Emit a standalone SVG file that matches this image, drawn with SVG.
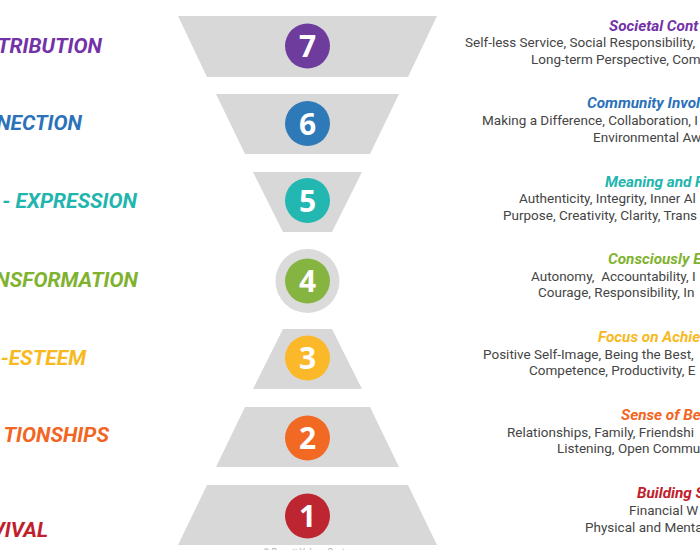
<svg xmlns="http://www.w3.org/2000/svg" width="700" height="550" viewBox="0 0 700 550">
<style>
.tier{fill:#d9d8d9}
.num{font-family:"Open Sans","Liberation Sans",sans-serif;font-weight:700;font-size:30px;fill:#ffffff;text-anchor:middle}
.lab{font-family:Roboto,"Liberation Sans",sans-serif;font-weight:700;font-style:italic;font-size:21px;text-anchor:end}
.ttl{font-family:Roboto,"Liberation Sans",sans-serif;font-weight:700;font-style:italic;font-size:15.3px}
.body{font-family:Roboto,"Liberation Sans",sans-serif;font-size:13.5px;fill:#454545}
.c7{fill:#6e3c9d}.c6{fill:#2e7ab8}.c5{fill:#22b7b1}.c4{fill:#86b440}.c3{fill:#fbb829}.c2{fill:#f26924}.c1{fill:#bd2530}
.t7{fill:#7432a8}.t6{fill:#2b72ba}.t5{fill:#22b5ae}.t4{fill:#7fb32f}.t3{fill:#f8b91e}.t2{fill:#f26522}.t1{fill:#c0202c}
</style>
<rect width="700" height="550" fill="#ffffff"/>
<g id="level7">
<polygon class="tier" points="178,16 437,16 408,77 207,77"/>
<circle class="c7" cx="307.5" cy="46" r="22.5"/>
<text class="num" x="307.5" y="57">7</text>
<text class="lab t7" x="102" y="53">TRIBUTION</text>
<text class="ttl t7" x="609" y="31">Societal Cont</text>
<text class="body" x="465" y="47">Self-less Service, Social Responsibility,</text>
<text class="body" x="531" y="64">Long-term Perspective, Com</text>
</g>
<g id="level6">
<polygon class="tier" points="216,94 399,94 370,154 245,154"/>
<circle class="c6" cx="307.5" cy="123.5" r="22.5"/>
<text class="num" x="307.5" y="134.5">6</text>
<text class="lab t6" x="82" y="130">NECTION</text>
<text class="ttl t6" x="587" y="108">Community Invol</text>
<text class="body" x="482" y="125">Making a Difference, Collaboration, I</text>
<text class="body" x="593" y="142">Environmental Aw</text>
</g>
<g id="level5">
<polygon class="tier" points="253,172 362,172 332,232 283,232"/>
<circle class="c5" cx="307.5" cy="200.5" r="22.5"/>
<text class="num" x="307.5" y="211.5">5</text>
<text class="lab t5" x="137" y="208">- EXPRESSION</text>
<text class="ttl t5" x="605" y="187">Meaning and F</text>
<text class="body" x="519" y="203">Authenticity, Integrity, Inner Al</text>
<text class="body" x="503" y="220">Purpose, Creativity, Clarity, Trans</text>
</g>
<g id="level4">
<circle fill="#dcdbdc" cx="307.5" cy="281" r="32"/>
<circle class="c4" cx="307.5" cy="281" r="22.5"/>
<text class="num" x="307.5" y="292">4</text>
<text class="lab t4" x="138" y="287">NSFORMATION</text>
<text class="ttl t4" x="608" y="264">Consciously E</text>
<text class="body" x="531" y="281" xml:space="preserve">Autonomy,  Accountability, I</text>
<text class="body" x="538" y="297">Courage, Responsibility, In</text>
</g>
<g id="level3">
<polygon class="tier" points="283,329 332,329 362,389 253,389"/>
<circle class="c3" cx="307.5" cy="358" r="22.5"/>
<text class="num" x="307.5" y="369">3</text>
<text class="lab t3" x="86" y="365">-ESTEEM</text>
<text class="ttl t3" x="598" y="342">Focus on Achie</text>
<text class="body" x="483" y="359">Positive Self-Image, Being the Best,</text>
<text class="body" x="529" y="375">Competence, Productivity, E</text>
</g>
<g id="level2">
<polygon class="tier" points="245,407 370,407 399,467 216,467"/>
<circle class="c2" cx="307.5" cy="438" r="22.5"/>
<text class="num" x="307.5" y="449">2</text>
<text class="lab t2" x="109" y="442">TIONSHIPS</text>
<text class="ttl t2" x="621" y="420">Sense of Be</text>
<text class="body" x="507" y="437">Relationships, Family, Friendshi</text>
<text class="body" x="557" y="453">Listening, Open Commu</text>
</g>
<g id="level1">
<polygon class="tier" points="207,485 408,485 437,545 178,545"/>
<circle class="c1" cx="307.5" cy="516" r="22.5"/>
<text class="num" x="307.5" y="527">1</text>
<text class="lab t1" x="48" y="537">VIVAL</text>
<text class="ttl t1" x="637" y="498">Building S</text>
<text class="body" x="629" y="515">Financial W</text>
<text class="body" x="585" y="532">Physical and Menta</text>
</g>
<g id="connectors"/>
<text x="307.5" y="554.5" font-family="Roboto,'Liberation Sans',sans-serif" font-size="8.5" fill="#b0b0b0" text-anchor="middle">© Barrett Values Centre</text>
</svg>
